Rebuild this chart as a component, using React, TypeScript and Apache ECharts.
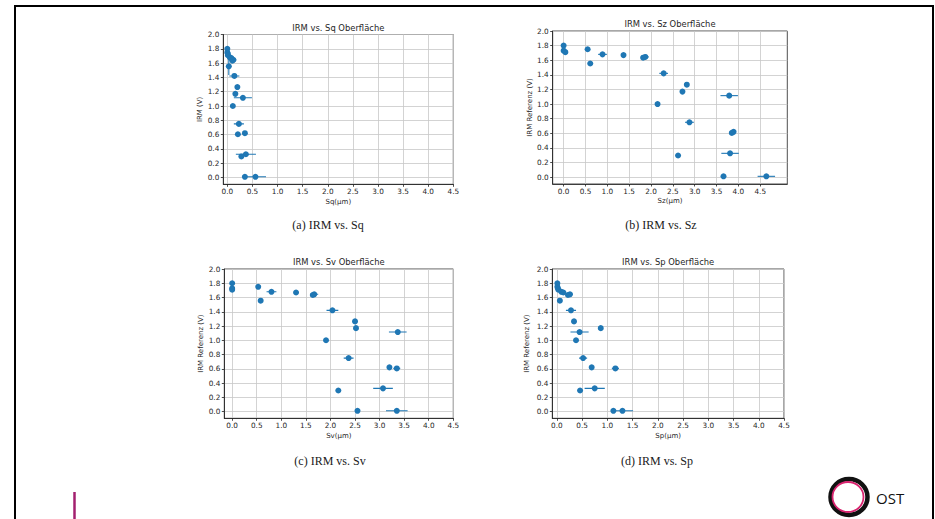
import React, { useEffect, useRef } from "react";
import * as echarts from "echarts";

// IRM reference values (V), shared by all four panels
const irm = [1.80, 1.75, 1.73, 1.71, 1.68, 1.67, 1.645, 1.635, 1.555, 1.42, 1.265, 1.17, 1.115, 1.0, 0.75, 0.62, 0.605, 0.325, 0.295, 0.01, 0.01];

// Sq (µm)
const sqValues = [0.0, 0.0, 0.01, 0.01, 0.05, 0.08, 0.12, 0.10, 0.03, 0.14, 0.20, 0.16, 0.31, 0.11, 0.23, 0.35, 0.21, 0.37, 0.28, 0.35, 0.56];
const sqErr = [0.01, 0.01, 0.01, 0.01, 0.02, 0.02, 0.06, 0.03, 0.01, 0.1, 0.03, 0.02, 0.18, 0.02, 0.1, 0.03, 0.03, 0.2, 0.03, 0.03, 0.21];
const sqIrmErr = [0, 0, 0, 0, 0, 0, 0, 0, 0.12, 0, 0, 0, 0, 0, 0, 0, 0, 0, 0, 0, 0];

// Sz (µm)
const szValues = [0.0, 0.55, 0.0, 0.04, 0.89, 1.37, 1.87, 1.82, 0.61, 2.29, 2.82, 2.72, 3.79, 2.15, 2.88, 3.89, 3.85, 3.81, 2.62, 3.66, 4.64];
const szErr = [0.02, 0.02, 0.02, 0.03, 0.1, 0.03, 0.08, 0.05, 0.02, 0.1, 0.05, 0.03, 0.2, 0.02, 0.1, 0.04, 0.04, 0.2, 0.02, 0.02, 0.2];
const szIrmErr = [0, 0, 0, 0, 0, 0.03, 0, 0, 0, 0, 0, 0, 0, 0, 0, 0, 0, 0, 0, 0, 0];

// Sv (µm)
const svValues = [0.0, 0.53, 0.0, 0.0, 0.80, 1.30, 1.67, 1.64, 0.58, 2.04, 2.50, 2.52, 3.37, 1.91, 2.37, 3.20, 3.35, 3.07, 2.16, 2.55, 3.35];
const svErr = [0.01, 0.02, 0.01, 0.01, 0.1, 0.03, 0.08, 0.05, 0.02, 0.12, 0.05, 0.02, 0.18, 0.02, 0.1, 0.04, 0.07, 0.2, 0.02, 0.02, 0.22];
const svIrmErr = [0, 0, 0, 0, 0, 0.03, 0, 0, 0, 0, 0, 0, 0, 0, 0, 0, 0, 0, 0, 0, 0];

// Sp (µm)
const spValues = [0.01, 0.01, 0.02, 0.03, 0.09, 0.13, 0.26, 0.22, 0.06, 0.28, 0.34, 0.87, 0.45, 0.38, 0.52, 0.69, 1.16, 0.75, 0.46, 1.12, 1.30];
const spErr = [0.01, 0.01, 0.01, 0.02, 0.03, 0.03, 0.06, 0.04, 0.01, 0.1, 0.03, 0.02, 0.18, 0.02, 0.08, 0.03, 0.07, 0.2, 0.02, 0.02, 0.21];
const spIrmErr = [0, 0, 0, 0, 0, 0, 0, 0, 0, 0, 0, 0, 0, 0, 0, 0, 0, 0, 0, 0, 0];

const xTicks = [0, 0.5, 1, 1.5, 2, 2.5, 3, 3.5, 4, 4.5];
const yTicks = [0, 0.2, 0.4, 0.6, 0.8, 1.0, 1.2, 1.4, 1.6, 1.8, 2.0];

const titles = ["IRM vs. Sq Oberfläche", "IRM vs. Sz Oberfläche", "IRM vs. Sv Oberfläche", "IRM vs. Sp Oberfläche"];
const captions = ["(a) IRM vs. Sq", "(b) IRM vs. Sz", "(c) IRM vs. Sv", "(d) IRM vs. Sp"];
const xNames = ["Sq(µm)", "Sz(µm)", "Sv(µm)", "Sp(µm)"];
const yNames = ["IRM (V)", "IRM Referenz (V)", "IRM Referenz (V)", "IRM Referenz (V)"];

const BLUE = "#1f77b4";
const TXT = "#262626";
const SANS = "DejaVu Sans";

const panels = [
  { xs: sqValues, xe: sqErr, ye: sqIrmErr, left: 223.3, top: 34.5, width: 230, height: 149.8, xMin: -0.08, xMax: 4.5, yGap: 19, xGap: 14, cap: [328, 225] },
  { xs: szValues, xe: szErr, ye: szIrmErr, left: 552.7, top: 31, width: 234.6, height: 153, xMin: -0.25, xMax: 5.12, yGap: 18, xGap: 13, cap: [661, 225] },
  { xs: svValues, xe: svErr, ye: svIrmErr, left: 224.3, top: 269, width: 229, height: 149.3, xMin: -0.16, xMax: 4.5, yGap: 20, xGap: 14, cap: [330, 461] },
  { xs: spValues, xe: spErr, ye: spIrmErr, left: 552.3, top: 269, width: 231.7, height: 149.3, xMin: -0.09, xMax: 4.5, yGap: 21.5, xGap: 14, cap: [657, 461] },
];

export default function App() {
  const ref = useRef<HTMLDivElement>(null);
  useEffect(() => {
    if (!ref.current) return;
    const chart = echarts.init(ref.current, undefined, { renderer: "svg" });
    const axisLineStyle = { color: "#222", width: 0.8 };
    const grid: any[] = [];
    const xAxis: any[] = [];
    const yAxis: any[] = [];
    const series: any[] = [];
    const graphic: any[] = [];

    panels.forEach((p, i) => {
      grid.push({ left: p.left, top: p.top, width: p.width, height: p.height, show: true, borderColor: "#222", borderWidth: 0.8, containLabel: false });
      xAxis.push({
        type: "value", gridIndex: i, min: p.xMin, max: p.xMax,
        name: xNames[i], nameLocation: "middle", nameGap: p.xGap,
        nameTextStyle: { fontSize: 7, color: TXT, fontFamily: SANS },
        axisLine: { show: true, onZero: false, lineStyle: axisLineStyle },
        axisTick: { show: true, length: 2.5, customValues: xTicks, lineStyle: axisLineStyle },
        axisLabel: { customValues: xTicks, fontSize: 7.3, color: TXT, fontFamily: SANS, margin: 3.5, formatter: (v: number) => v.toFixed(1) },
        splitLine: { show: true, lineStyle: { color: "#c8c8c8", width: 0.8 } },
      });
      yAxis.push({
        type: "value", gridIndex: i, min: -0.095, max: 2.0,
        name: yNames[i], nameLocation: "middle", nameGap: p.yGap,
        nameTextStyle: { fontSize: 7, color: TXT, fontFamily: SANS },
        axisLine: { show: true, onZero: false, lineStyle: axisLineStyle },
        axisTick: { show: true, length: 2.5, customValues: yTicks, lineStyle: axisLineStyle },
        axisLabel: { customValues: yTicks, fontSize: 7.3, color: TXT, fontFamily: SANS, margin: 4, formatter: (v: number) => v.toFixed(1) },
        splitLine: { show: true, lineStyle: { color: "#c8c8c8", width: 0.8 } },
      });
      const pts = p.xs.map((x, k) => [x, irm[k], p.xe[k], p.ye[k]]);
      series.push({
        type: "custom", xAxisIndex: i, yAxisIndex: i, clip: true,
        encode: { x: 0, y: 1 },
        data: pts,
        renderItem: (params: any, api: any) => {
          const x = api.value(0), y = api.value(1), ex = api.value(2), ey = api.value(3);
          const children: any[] = [];
          if (ex > 0) {
            const a = api.coord([x - ex, y]);
            const b = api.coord([x + ex, y]);
            children.push({ type: "line", shape: { x1: a[0], y1: a[1], x2: b[0], y2: b[1] }, style: { stroke: BLUE, lineWidth: 1.1 } });
          }
          if (ey > 0) {
            const a = api.coord([x, y - ey]);
            const b = api.coord([x, y + ey]);
            children.push({ type: "line", shape: { x1: a[0], y1: a[1], x2: b[0], y2: b[1] }, style: { stroke: BLUE, lineWidth: 1.1 } });
          }
          return { type: "group", children };
        },
      });
      series.push({
        type: "scatter", xAxisIndex: i, yAxisIndex: i,
        data: pts.map((d) => [d[0], d[1]]),
        symbolSize: 6, itemStyle: { color: BLUE, opacity: 1 },
      });
      graphic.push({
        type: "text", x: p.left + p.width / 2, y: p.top - 7,
        style: { text: titles[i], fontSize: 8.4, fontFamily: SANS, fill: TXT, textAlign: "center", textVerticalAlign: "middle" },
      });
      graphic.push({
        type: "text", x: p.cap[0], y: p.cap[1],
        style: { text: captions[i], fontSize: 12, fontFamily: "Liberation Serif", fill: "#1a1a1a", textAlign: "center", textVerticalAlign: "middle" },
      });
    });

    // slide frame
    graphic.push({ type: "rect", shape: { x: 15, y: 6, width: 918, height: 600 }, style: { fill: "none", stroke: "#000", lineWidth: 2 } });
    // accent line
    graphic.push({ type: "line", shape: { x1: 74.5, y1: 492, x2: 74.5, y2: 519 }, style: { stroke: "#a3206f", lineWidth: 2.5 } });
    // logo
    graphic.push({ type: "ellipse", shape: { cx: 849, cy: 497, rx: 18.5, ry: 18 }, style: { fill: "none", stroke: "#111", lineWidth: 4.5 } });
    graphic.push({ type: "ellipse", shape: { cx: 848, cy: 497, rx: 15.5, ry: 15 }, style: { fill: "none", stroke: "#d8246f", lineWidth: 1.8 } });
    graphic.push({ type: "text", x: 876, y: 498, style: { text: "OST", fontSize: 15, fontFamily: "Open Sans", fill: "#111", textAlign: "left", textVerticalAlign: "middle" } });

    chart.setOption({ animation: false, backgroundColor: "#fff", grid, xAxis, yAxis, series, graphic });
    return () => chart.dispose();
  }, []);
  return <div ref={ref} style={{ position: "absolute", left: 0, top: 0, width: 935, height: 519 }} />;
}
